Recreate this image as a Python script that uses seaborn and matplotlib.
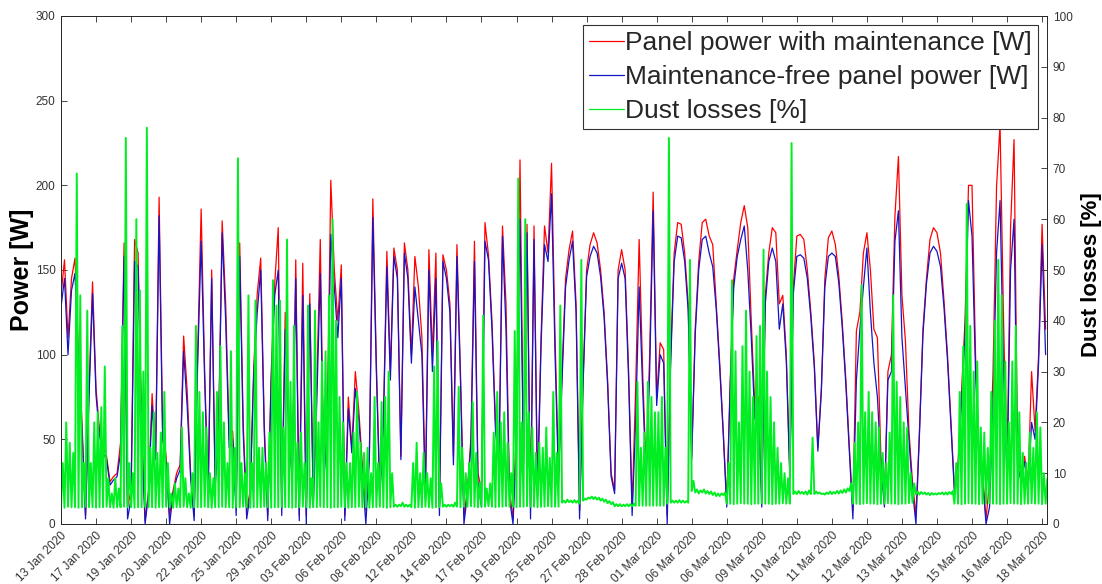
import numpy as np
import matplotlib
matplotlib.use("Agg")
import matplotlib.pyplot as plt
import seaborn as sns

# ---------------- data ----------------
tick_labels = ['13 Jan 2020', '17 Jan 2020', '19 Jan 2020', '20 Jan 2020', '22 Jan 2020',
               '25 Jan 2020', '29 Jan 2020', '03 Feb 2020', '06 Feb 2020', '08 Feb 2020',
               '12 Feb 2020', '14 Feb 2020', '17 Feb 2020', '19 Feb 2020', '25 Feb 2020',
               '27 Feb 2020', '28 Feb 2020', '01 Mar 2020', '06 Mar 2020', '06 Mar 2020',
               '09 Mar 2020', '10 Mar 2020', '11 Mar 2020', '12 Mar 2020', '13 Mar 2020',
               '14 Mar 2020', '15 Mar 2020', '16 Mar 2020', '18 Mar 2020']
samples_per_tick = 10

power_with_maintenance = [
    135, 156, 110, 145, 157, 100, 60, 5, 80, 143,
    80, 55, 45, 40, 25, 28, 30, 48, 166, 10,
    20, 168, 160, 60, 2, 20, 77, 40, 193, 56,
    40, 5, 20, 30, 35, 111, 79, 30, 5, 100,
    186, 90, 20, 150, 25, 60, 179, 130, 50, 55,
    10, 166, 59, 8, 20, 92, 136, 157, 60, 5,
    90, 142, 175, 10, 125, 60, 30, 156, 5, 154,
    5, 136, 15, 82, 168, 30, 60, 203, 150, 120,
    153, 5, 75, 45, 90, 67, 35, 8, 40, 192,
    95, 20, 60, 161, 90, 163, 150, 40, 166, 150,
    100, 158, 140, 110, 20, 162, 100, 160, 10, 159,
    150, 130, 40, 165, 90, 5, 20, 51, 167, 30,
    20, 178, 159, 120, 60, 40, 176, 130, 20, 3,
    60, 215, 40, 177, 10, 176, 20, 110, 176, 160,
    213, 110, 30, 90, 145, 162, 173, 130, 8, 85,
    150, 165, 172, 166, 150, 125, 85, 30, 20, 150,
    162, 150, 90, 10, 80, 168, 90, 30, 100, 196,
    75, 107, 103, 5, 100, 160, 178, 177, 160, 130,
    40, 115, 155, 178, 180, 170, 165, 130, 95, 55,
    12, 85, 145, 162, 178, 188, 175, 120, 70, 75,
    15, 135, 160, 175, 172, 130, 135, 100, 30, 140,
    170, 171, 168, 150, 125, 95, 45, 80, 145, 169,
    173, 165, 146, 118, 85, 45, 8, 114, 125, 160,
    172, 150, 115, 110, 40, 12, 90, 100, 182, 217,
    135, 108, 55, 25, 5, 55, 115, 145, 168, 175,
    172, 160, 132, 100, 60, 20, 35, 77, 120, 200,
    200, 100, 40, 30, 3, 25, 90, 199, 236, 120,
    30, 175, 227, 40, 30, 40, 25, 90, 55, 100,
    177, 115]

power_maintenance_free = [
    128, 145, 100, 138, 148, 92, 55, 3, 75, 136,
    76, 52, 42, 38, 23, 26, 28, 42, 158, 3,
    15, 155, 152, 55, 0, 18, 70, 38, 182, 50,
    36, 0, 18, 27, 32, 102, 70, 27, 2, 95,
    167, 85, 15, 145, 22, 55, 172, 120, 45, 50,
    5, 158, 54, 3, 18, 88, 125, 150, 55, 2,
    85, 135, 150, 5, 115, 55, 25, 145, 2, 135,
    0, 130, 10, 72, 148, 25, 55, 171, 140, 110,
    145, 2, 68, 42, 80, 62, 30, 0, 38, 181,
    90, 15, 57, 152, 85, 158, 145, 38, 160, 145,
    95, 140, 120, 100, 15, 150, 90, 145, 5, 155,
    145, 125, 35, 158, 85, 0, 18, 47, 155, 25,
    10, 167, 156, 115, 55, 35, 170, 115, 15, 0,
    50, 180, 35, 172, 3, 168, 15, 105, 165, 155,
    195, 100, 25, 85, 140, 156, 167, 125, 3, 82,
    146, 158, 164, 160, 146, 122, 82, 28, 18, 145,
    154, 145, 85, 5, 60, 140, 80, 25, 90, 185,
    70, 100, 95, 0, 95, 155, 170, 169, 155, 126,
    38, 112, 150, 168, 170, 160, 152, 127, 92, 53,
    10, 82, 140, 158, 168, 176, 150, 110, 62, 70,
    10, 130, 155, 163, 155, 115, 130, 96, 28, 136,
    158, 159, 157, 145, 122, 92, 43, 78, 140, 158,
    160, 158, 142, 115, 82, 43, 3, 85, 115, 140,
    163, 125, 95, 75, 35, 10, 85, 90, 167, 185,
    110, 80, 50, 20, 0, 53, 112, 142, 160, 164,
    161, 152, 128, 97, 58, 18, 32, 72, 110, 191,
    170, 90, 36, 27, 0, 10, 70, 160, 191, 90,
    25, 150, 180, 35, 25, 37, 20, 60, 50, 95,
    165, 100]

# dust losses: upper envelope and lower envelope of the fast-varying trace
dust_peak = [
    12, 20, 16, 14, 69, 45, 12, 42, 12, 20,
    22, 23, 31, 9, 6, 9, 7, 39, 76, 12,
    10, 60, 46, 30, 78, 15, 22, 14, 18, 26,
    12, 6, 8, 7, 19, 9, 6, 10, 39, 26,
    22, 19, 10, 9, 26, 35, 20, 12, 34, 15,
    72, 12, 10, 45, 12, 44, 15, 15, 12, 18,
    48, 43, 44, 19, 56, 28, 39, 16, 18, 12,
    43, 9, 42, 20, 32, 34, 45, 60, 40, 25,
    20, 12, 12, 18, 26, 16, 14, 15, 10, 25,
    12, 24, 25, 30, 10, 3.8, 3.8, 4.2, 3.8, 3.8,
    12, 16, 10, 14, 10, 9, 31, 36, 8, 3.8,
    3.8, 3.8, 4.2, 27, 15, 10, 12, 24, 14, 8,
    41, 7, 8, 18, 26, 20, 22, 16, 10, 38,
    68, 20, 60, 22, 19, 14, 16, 15, 19, 13,
    26, 14, 43, 4.6, 4.8, 4.6, 4.7, 4.6, 52, 5.0,
    5.2, 5.4, 5.3, 5.2, 5.0, 4.8, 4.5, 4.3, 3.9, 3.9,
    3.8, 3.9, 3.9, 4.0, 28, 15, 18, 28, 25, 22,
    22, 25, 15, 76, 4.6, 4.6, 4.7, 4.6, 4.5, 52,
    8.5, 6.8, 6.6, 6.8, 6.5, 6.4, 6.2, 6.0, 6.0, 6.2,
    12, 48, 34, 20, 35, 42, 30, 25, 37, 39,
    54, 30, 25, 20, 15, 12, 10, 9, 75, 6.4,
    6.5, 6.3, 6.4, 6.6, 17, 6.4, 6.2, 6.0, 6.2, 6.4,
    6.3, 6.5, 6.6, 6.8, 7.0, 8.0, 16, 20, 47, 22,
    26, 22, 20, 19, 14, 12, 18, 45, 28, 25,
    20, 19, 10, 8, 6.4, 6.3, 6.2, 6.1, 6.1, 6.0,
    6.1, 6.2, 6.2, 6.3, 6.5, 12, 26, 35, 63, 39,
    30, 32, 19, 18, 15, 26, 40, 52, 45, 32,
    20, 32, 39, 22, 14, 12, 18, 15, 22, 19,
    10, 9]

dust_base = [
    3.3, 3.2, 3.4, 3.3, 3.3, 3.2, 3.3, 3.4, 3.3, 3.3,
    3.2, 3.3, 3.3, 3.4, 3.3, 3.2, 3.3, 3.3, 3.4, 3.3,
    3.3, 3.2, 3.3, 3.3, 3.4, 3.3, 3.3, 3.2, 3.3, 3.3,
    3.4, 3.3, 3.2, 3.3, 3.3, 3.4, 3.3, 3.2, 3.3, 3.3,
    3.3, 3.4, 3.3, 3.2, 3.3, 3.3, 3.4, 3.3, 3.3, 3.2,
    3.3, 3.3, 3.4, 3.3, 3.2, 3.3, 3.3, 3.3, 3.4, 3.3,
    3.2, 3.3, 3.3, 3.4, 3.3, 3.3, 3.2, 3.3, 3.3, 3.4,
    3.3, 3.2, 3.3, 3.3, 3.4, 3.3, 3.3, 3.2, 3.3, 3.3,
    3.4, 3.3, 3.2, 3.3, 3.3, 3.4, 3.3, 3.3, 3.2, 3.3,
    3.3, 3.4, 3.3, 3.2, 3.3, 3.4, 3.4, 3.5, 3.4, 3.4,
    3.3, 3.2, 3.3, 3.3, 3.4, 3.3, 3.2, 3.3, 3.3, 3.4,
    3.4, 3.5, 3.4, 3.4, 3.3, 3.4, 3.4, 3.5, 3.4, 3.3,
    3.4, 3.4, 3.5, 3.4, 3.3, 3.4, 3.4, 3.5, 3.4, 3.4,
    3.3, 3.4, 3.4, 3.5, 3.4, 3.4, 3.3, 3.4, 3.4, 3.5,
    3.4, 3.4, 3.4, 4.2, 4.2, 4.3, 4.2, 4.2, 4.0, 4.6,
    4.8, 5.0, 4.9, 4.8, 4.6, 4.4, 4.1, 3.9, 3.5, 3.5,
    3.5, 3.5, 3.5, 3.5, 3.6, 3.6, 3.6, 3.6, 3.6, 3.6,
    3.6, 3.6, 3.6, 4.0, 4.2, 4.2, 4.2, 4.2, 4.2, 4.2,
    6.5, 6.2, 6.0, 6.2, 6.0, 5.9, 5.7, 5.5, 5.5, 5.7,
    4.0, 4.0, 3.9, 4.0, 4.1, 4.0, 4.0, 3.9, 4.0, 4.0,
    4.1, 4.0, 4.0, 3.9, 4.0, 4.0, 4.1, 4.0, 4.0, 5.9,
    5.9, 6.0, 5.9, 5.8, 5.9, 5.9, 6.0, 5.9, 5.8, 5.9,
    5.9, 6.0, 6.0, 6.1, 6.2, 6.5, 4.0, 4.0, 3.9, 4.0,
    4.1, 4.0, 4.0, 3.9, 4.0, 4.0, 4.1, 4.0, 4.0, 3.9,
    4.0, 4.0, 4.1, 4.2, 5.8, 5.8, 5.9, 5.8, 5.7, 5.8,
    5.8, 5.9, 5.8, 5.8, 5.9, 4.0, 4.0, 3.9, 4.0, 4.1,
    4.0, 4.0, 3.9, 4.0, 4.0, 4.1, 4.0, 4.0, 3.9, 4.0,
    4.0, 4.1, 4.0, 4.0, 3.9, 4.0, 4.0, 4.1, 4.0, 4.0,
    3.9, 4.0]

series_labels = ['Panel power with maintenance [W]',
                 'Maintenance-free panel power [W]',
                 'Dust losses [%]']

# ---------------- build ----------------
sample = np.arange(len(power_with_maintenance), dtype=float)
dust_x = np.column_stack([sample, sample + 0.5]).ravel()
dust_y = np.column_stack([dust_base, dust_peak]).ravel()

sns.set_style("white")
plt.rcParams['font.family'] = ['Liberation Sans', 'DejaVu Sans']

W, H = 1102, 584
fig = plt.figure(figsize=(W / 100, H / 100), dpi=100)
L, R, T, B = 61, 1047, 16, 524
ax = fig.add_axes([L / W, 1 - B / H, (R - L) / W, (B - T) / H])

red = '#ff0000'
blue = '#1414c8'
green = '#00ee22'
axis_col = '#262626'

sns.lineplot(x=sample, y=power_with_maintenance, ax=ax, color=red, linewidth=0.9,
             estimator=None, sort=False)
sns.lineplot(x=sample, y=power_maintenance_free, ax=ax, color=blue, linewidth=0.9,
             estimator=None, sort=False)

ax2 = ax.twinx()
sns.lineplot(x=dust_x, y=dust_y, ax=ax2, color=green, linewidth=1.4,
             estimator=None, sort=False)

n_ticks = len(tick_labels)
ax.set_xlim(0, (n_ticks - 1) * samples_per_tick + 1.4)
ax.set_ylim(0, 300)
ax2.set_ylim(0, 100)
ax.set_xticks(np.arange(n_ticks) * samples_per_tick)
ax.set_xticklabels(tick_labels, rotation=45, ha='right', va='top',
                   rotation_mode='anchor', fontsize=8.5, color='#333333')
ax.set_yticks(np.arange(0, 301, 50))
ax2.set_yticks(np.arange(0, 101, 10))
ax.set_xlabel('')
for a in (ax, ax2):
    for s in a.spines.values():
        s.set_color(axis_col)
        s.set_linewidth(0.6)
ax.tick_params(axis='x', direction='in', length=4, width=0.6, top=True, bottom=True,
               color=axis_col, pad=4)
ax.tick_params(axis='y', direction='in', length=4, width=0.6, left=True, right=False,
               color=axis_col, labelsize=8.5, labelcolor='#333333', pad=4)
ax2.tick_params(axis='y', direction='in', length=4, width=0.6, left=False, right=True,
                color=axis_col, labelsize=8.5, labelcolor='#333333', pad=4)

ax.set_ylabel('Power [W]', fontsize=18, fontweight='bold', color='black')
ax.yaxis.set_label_coords(-0.027, 0.5)
ax2.set_ylabel('Dust losses [%]', fontsize=16, fontweight='bold', color='black')
ax2.yaxis.set_label_coords(1.034, 0.49)

handles = [ax.lines[0], ax.lines[1], ax2.lines[0]]
leg = ax2.legend(handles, series_labels, loc='upper right',
                 bbox_to_anchor=(1 - 9 / (R - L), 1 - 9 / (B - T)), borderaxespad=0,
                 fontsize=19, frameon=True, fancybox=False, framealpha=1,
                 edgecolor='#333333', handlelength=1.35, handletextpad=0.05,
                 labelspacing=0.38, borderpad=0.22)
leg.get_frame().set_linewidth(0.8)
for h in leg.get_lines():
    h.set_linewidth(0.9)
leg.set_zorder(10)

fig.savefig('out.png', dpi=100)
